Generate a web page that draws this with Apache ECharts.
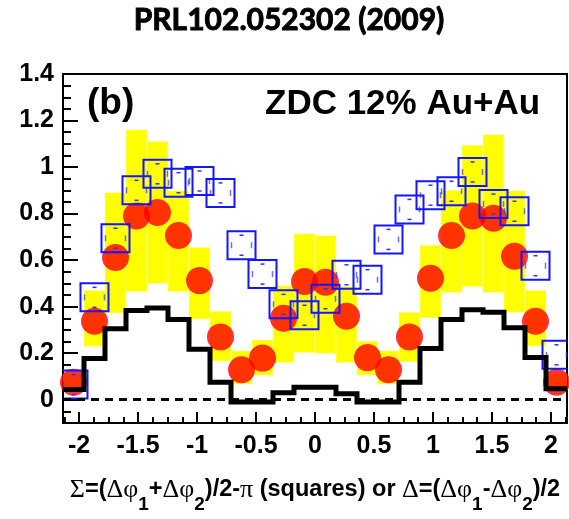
<!DOCTYPE html>
<html>
<head>
<meta charset="utf-8">
<script src="https://cdn.jsdelivr.net/npm/echarts@6/dist/echarts.min.js"></script>
<style>
  html, body { margin: 0; padding: 0; background: #fff; }
  #chart { width: 569px; height: 519px; }
</style>
</head>
<body>
<div id="chart"></div>
<script>
// Bin centres (rad) of the 24 azimuthal bins
const binCenters = [-2.047, -1.869, -1.691, -1.513, -1.335, -1.157, -0.979, -0.801,
                    -0.623, -0.445, -0.267, -0.089, 0.089, 0.267, 0.445, 0.623,
                    0.801, 0.979, 1.157, 1.335, 1.513, 1.691, 1.869, 2.047];
const binWidth = 0.178;

// Delta = (dphi1 - dphi2)/2 : red circles
const deltaVals = [0.075, 0.337, 0.611, 0.790, 0.805, 0.706, 0.512, 0.270,
                   0.129, 0.179, 0.350, 0.508, 0.505, 0.359, 0.181, 0.129,
                   0.270, 0.522, 0.706, 0.790, 0.780, 0.617, 0.337, 0.075];

// Systematic band on Delta (yellow boxes)
const sysLow  = [0.040, 0.230, 0.373, 0.465, 0.500, 0.465, 0.347, 0.167,
                 0.068, 0.106, 0.160, 0.203, 0.200, 0.160, 0.106, 0.068,
                 0.163, 0.352, 0.461, 0.486, 0.461, 0.376, 0.231, 0.040];
const sysHigh = [0.110, 0.470, 0.890, 1.160, 1.110, 0.898, 0.654, 0.380,
                 0.210, 0.257, 0.490, 0.713, 0.706, 0.486, 0.252, 0.210,
                 0.376, 0.664, 0.900, 1.094, 1.139, 0.898, 0.470, 0.110];

// Sigma = (dphi1 + dphi2)/2 - pi : open blue squares
const sigmaVals = [0.065, 0.440, 0.694, 0.900, 0.971, 0.933, 0.940, 0.889,
                   0.664, 0.540, 0.410, 0.363, 0.434, 0.537, 0.516, 0.689,
                   0.818, 0.879, 0.896, 0.979, 0.841, 0.810, 0.576, 0.193];

// Background histogram (black steps)
const bgHist = [0.044, 0.177, 0.305, 0.384, 0.394, 0.345, 0.217, 0.075,
                -0.010, -0.010, 0.030, 0.054, 0.054, 0.026, -0.010, -0.010,
                0.075, 0.220, 0.345, 0.387, 0.376, 0.309, 0.181, 0.047];

const xTicks = [-2, -1.5, -1, -0.5, 0, 0.5, 1, 1.5, 2];
const yTicks = [0, 0.2, 0.4, 0.6, 0.8, 1, 1.2, 1.4];
const xRange = [-2.136, 2.136];
const yRange = [-0.1, 1.4];

// minor tick positions
const xMinor = [];
for (let k = -17; k <= 17; k++) xMinor.push(+(k * 0.125).toFixed(3));
const yMinor = [];
for (let k = -2; k <= 28; k++) yMinor.push(+(k * 0.05).toFixed(3));

// step histogram points at bin edges
const histPts = binCenters.map((c, i) => [+(c - binWidth / 2).toFixed(4), bgHist[i]]);
histPts.push([+(binCenters[binCenters.length - 1] + binWidth / 2).toFixed(4), bgHist[bgHist.length - 1]]);

const bandData = binCenters.map((c, i) => [c, sysLow[i], sysHigh[i]]);
const deltaData = binCenters.map((c, i) => [c, deltaVals[i]]);
const sigmaData = binCenters.map((c, i) => [c, sigmaVals[i]]);

const lblFont = { fontFamily: 'Liberation Sans', fontWeight: 'bold', fontSize: 25, color: '#000' };
const fmt = v => String(+v.toFixed(2));

const chart = echarts.init(document.getElementById('chart'), null, { renderer: 'canvas' });

const main = { fontFamily: 'Liberation Sans', fontWeight: 'bold', fontSize: 23.5, color: '#000',
               verticalAlign: 'bottom', padding: [0, 0, 12, 0] };
const grk = { fontFamily: 'Liberation Serif', fontWeight: 'normal', fontSize: 26, color: '#000',
              verticalAlign: 'bottom', padding: [0, 0, 11, 0] };
const sub = { fontFamily: 'Liberation Sans', fontWeight: 'bold', fontSize: 19, color: '#000',
              verticalAlign: 'bottom', padding: [0, 0, 0, 0] };

const hiddenLine = { show: false, onZero: false };

chart.setOption({
  animation: false,
  backgroundColor: '#fff',
  grid: { left: 63, top: 74, width: 504, height: 354, show: true,
          borderColor: '#000', borderWidth: 2, backgroundColor: 'transparent' },
  graphic: [
    { type: 'text', x: 289, y: 5, style: { text: 'PRL102.052302 (2009)', textAlign: 'center',
      fontFamily: 'Lato', fontWeight: 'bold', fontSize: 30, fill: '#000',
      stroke: '#000', lineWidth: 0.9 } },
    { type: 'text', x: 87, y: 85, z: 10, style: { text: '(b)', fontFamily: 'Liberation Sans',
      fontWeight: 'bold', fontSize: 37, fill: '#000' } },
    { type: 'text', x: 265, y: 87, z: 10, style: { text: 'ZDC 12% Au+Au', fontFamily: 'Liberation Sans',
      fontWeight: 'bold', fontSize: 35, fill: '#000' } }
  ],
  xAxis: [
    {
      type: 'value', min: xRange[0], max: xRange[1], position: 'bottom',
      axisLine: hiddenLine,
      splitLine: { show: false },
      axisTick: { show: true, inside: true, length: 11, customValues: xTicks,
                  lineStyle: { color: '#000', width: 2 } },
      axisLabel: Object.assign({ customValues: xTicks, formatter: fmt, margin: 11 }, lblFont),
      name: '{g|Σ}{b|=(}{g|Δφ}{s|1}{b|+}{g|Δφ}{s|2}{b|)/2-}{g|π}{b| (squares) or }{g|Δ}{b|=(}{g|Δφ}{s|1}{b|-}{g|Δφ}{s|2}{b|)/2}',
      nameLocation: 'middle', nameGap: 54,
      nameTextStyle: { rich: { b: main, g: grk, s: sub } }
    },
    {
      type: 'value', min: xRange[0], max: xRange[1], position: 'bottom',
      axisLine: hiddenLine, splitLine: { show: false }, axisLabel: { show: false },
      axisTick: { show: true, inside: true, length: 6, customValues: xMinor,
                  lineStyle: { color: '#000', width: 2 } }
    }
  ],
  yAxis: [
    {
      type: 'value', min: yRange[0], max: yRange[1], position: 'left',
      axisLine: hiddenLine, splitLine: { show: false },
      axisTick: { show: true, inside: true, length: 15, customValues: yTicks,
                  lineStyle: { color: '#000', width: 2 } },
      axisLabel: Object.assign({ customValues: yTicks, formatter: fmt, margin: 9 }, lblFont)
    },
    {
      type: 'value', min: yRange[0], max: yRange[1], position: 'left',
      axisLine: hiddenLine, splitLine: { show: false }, axisLabel: { show: false },
      axisTick: { show: true, inside: true, length: 8, customValues: yMinor,
                  lineStyle: { color: '#000', width: 2 } }
    }
  ],
  series: [
    {
      name: 'Delta syst', type: 'custom', z: 1, clip: true, data: bandData,
      renderItem: (params, api) => {
        const x = api.value(0), lo = api.value(1), hi = api.value(2);
        const p1 = api.coord([x - binWidth / 2, hi]);
        const p2 = api.coord([x + binWidth / 2, lo]);
        return { type: 'rect',
                 shape: { x: p1[0], y: p1[1], width: p2[0] - p1[0], height: p2[1] - p1[1] },
                 style: { fill: '#ffff00', stroke: '#ffffa8', lineWidth: 0.6 } };
      },
      markLine: {
        silent: true, symbol: 'none', label: { show: false },
        lineStyle: { color: '#000', width: 3, type: [8, 6] },
        data: [{ yAxis: 0 }]
      }
    },
    {
      name: 'Delta', type: 'scatter', z: 2, data: deltaData,
      symbol: 'circle', symbolSize: 27, itemStyle: { color: '#ff0000' }
    },
    {
      name: 'Sigma', type: 'custom', z: 3, clip: true, data: sigmaData,
      renderItem: (params, api) => {
        const c = api.coord([api.value(0), api.value(1)]);
        const h = 14, m = '#3030ff';
        return { type: 'group', children: [
          { type: 'rect', shape: { x: c[0] - h, y: c[1] - h, width: 2 * h, height: 2 * h },
            style: { fill: 'none', stroke: '#1515ff', lineWidth: 2 } },
          { type: 'line', shape: { x1: c[0] - 2, y1: c[1] - h + 4, x2: c[0] + 2, y2: c[1] - h + 4 },
            style: { stroke: m, lineWidth: 1.5 } },
          { type: 'line', shape: { x1: c[0] - 2, y1: c[1] + h - 4, x2: c[0] + 2, y2: c[1] + h - 4 },
            style: { stroke: m, lineWidth: 1.5 } },
          { type: 'line', shape: { x1: c[0] - h + 4, y1: c[1] - 3, x2: c[0] - h + 4, y2: c[1] + 3 },
            style: { stroke: m, lineWidth: 1.5, opacity: 0.7 } },
          { type: 'line', shape: { x1: c[0] + h - 4, y1: c[1] - 3, x2: c[0] + h - 4, y2: c[1] + 3 },
            style: { stroke: m, lineWidth: 1.5, opacity: 0.7 } }
        ] };
      }
    },
    {
      name: 'Background', type: 'line', z: 4, step: 'end', data: histPts,
      symbol: 'none', lineStyle: { color: '#000', width: 5, join: 'miter' }
    }
  ]
});
</script>
</body>
</html>
